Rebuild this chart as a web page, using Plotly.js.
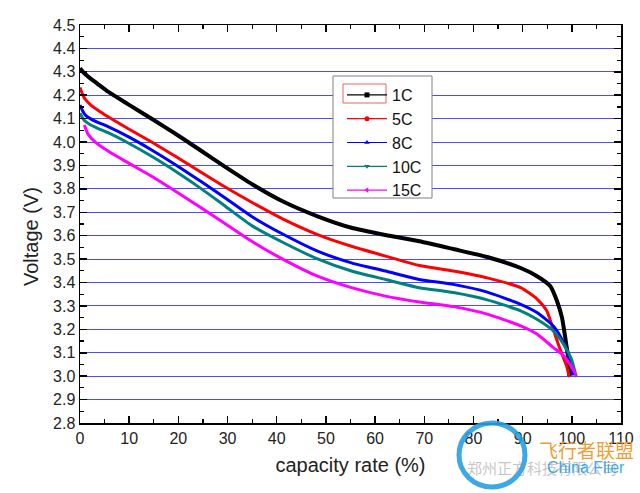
<!DOCTYPE html>
<html>
<head>
<meta charset="utf-8">
<script src="https://cdn.plot.ly/plotly-3.0.1.min.js"></script>
<style>html,body{margin:0;padding:0;background:#fff;}#chart{width:640px;height:493px;}</style>
</head>
<body>
<div id="chart"></div>
<script>
// ---- data ----
const seriesNames = ["1C", "5C", "8C", "10C", "15C"];
const xTickVals = [0, 10, 20, 30, 40, 50, 60, 70, 80, 90, 100, 110];

const x1C = [0, 0.6, 1.1, 2.1, 3.5, 5.7, 9.9, 14.9, 19.8, 24.7, 29.6, 35.0, 41.4, 48.3, 55.2, 62.1, 69.0, 75.9, 82.8, 89.6, 93.1, 95.6, 97.0, 98.0, 98.7, 99.3, 99.5];
const y1C = [4.315, 4.30, 4.29, 4.272, 4.25, 4.215, 4.16, 4.095, 4.03, 3.962, 3.893, 3.82, 3.745, 3.683, 3.634, 3.603, 3.576, 3.543, 3.509, 3.462, 3.425, 3.385, 3.32, 3.25, 3.16, 3.07, 3.0];

const x5C = [0, 0.6, 1.1, 2.1, 3.5, 5.7, 9.9, 14.9, 19.8, 24.7, 29.6, 35.0, 41.4, 48.3, 55.2, 62.1, 69.0, 75.9, 82.8, 89.6, 92.9, 94.9, 96.2, 97.6, 98.9, 99.5];
const y5C = [4.233, 4.2, 4.182, 4.16, 4.138, 4.108, 4.056, 3.996, 3.934, 3.87, 3.807, 3.742, 3.67, 3.605, 3.555, 3.513, 3.473, 3.449, 3.42, 3.378, 3.33, 3.279, 3.201, 3.116, 3.045, 2.996];

const x8C = [0, 0.6, 1.1, 2.1, 3.5, 5.7, 9.9, 14.9, 19.8, 24.7, 29.6, 35.0, 41.4, 48.3, 55.2, 62.1, 69.0, 75.9, 82.8, 89.6, 92.9, 96.2, 98.3, 99.6, 100.2];
const y8C = [4.158, 4.13, 4.115, 4.1, 4.085, 4.066, 4.022, 3.962, 3.898, 3.83, 3.76, 3.681, 3.605, 3.534, 3.484, 3.449, 3.413, 3.392, 3.359, 3.307, 3.272, 3.215, 3.144, 3.074, 3.003];

const x10C = [0, 0.6, 1.1, 2.1, 3.5, 5.7, 9.9, 14.9, 19.8, 24.7, 29.6, 35.0, 41.4, 48.3, 55.2, 62.1, 69.0, 75.9, 82.8, 89.6, 92.9, 96.2, 98.3, 99.9, 100.9];
const y10C = [4.123, 4.1, 4.088, 4.074, 4.06, 4.04, 3.995, 3.935, 3.87, 3.8, 3.725, 3.642, 3.57, 3.501, 3.449, 3.413, 3.378, 3.357, 3.326, 3.279, 3.243, 3.194, 3.137, 3.074, 2.996];

const x15C = [0.9, 1.6, 3.1, 5.7, 9.9, 14.9, 19.8, 24.7, 29.6, 35.0, 41.4, 48.3, 55.2, 62.1, 69.0, 75.9, 82.8, 89.6, 92.9, 96.2, 98.3, 100.2, 100.9];
const y15C = [4.073, 4.035, 4.0, 3.962, 3.91, 3.85, 3.785, 3.718, 3.65, 3.575, 3.498, 3.427, 3.378, 3.342, 3.317, 3.297, 3.265, 3.215, 3.18, 3.123, 3.088, 3.031, 3.003];

// ---- styles ----
const xs = [x1C, x5C, x8C, x10C, x15C];
const ys = [y1C, y5C, y8C, y10C, y15C];
const colors = ["#000000", "#ff0000", "#0000ff", "#008080", "#ff00ff"];
const widths = [4, 3, 3, 3, 3];
const symbols = ["square", "circle", "triangle-up", "triangle-down", "triangle-left"];

const traces = [];
for (let i = 0; i < seriesNames.length; i++) {
  traces.push({
    x: xs[i], y: ys[i], type: "scatter", mode: "lines",
    line: {color: colors[i], width: widths[i], shape: "spline", smoothing: 0.6},
    showlegend: false, hoverinfo: "skip"
  });
}
for (let i = 0; i < seriesNames.length; i++) {
  traces.push({
    x: [null], y: [null], type: "scatter", mode: "lines+markers",
    name: seriesNames[i],
    line: {color: colors[i], width: 1.2},
    marker: {color: colors[i], symbol: symbols[i], size: 5}
  });
}

function px2x(p) { return (p - 80) / 541; }
function py2y(p) { return (423 - p) / 398; }

const layout = {
  width: 640, height: 493,
  margin: {l: 80, r: 19, t: 25, b: 70},
  paper_bgcolor: "#ffffff", plot_bgcolor: "#ffffff",
  font: {family: "Liberation Sans, Arial, sans-serif", color: "#222"},
  xaxis: {
    range: [0, 110], tickvals: xTickVals, ticks: "inside", ticklen: 7, tickwidth: 1.5, tickcolor: "#000",
    showline: true, linecolor: "#000", linewidth: 1.5, mirror: "ticks",
    showgrid: false, zeroline: false,
    minor: {dtick: 5, ticks: "inside", ticklen: 4, tickwidth: 1.2, tickcolor: "#000", showgrid: false},
    tickfont: {size: 16, color: "#222"},
    title: {text: "capacity rate (%)", font: {size: 20, color: "#222"}, standoff: 12}
  },
  yaxis: {
    range: [2.8, 4.5], dtick: 0.1, tick0: 2.8, tickformat: ".1f", ticks: "inside", ticklen: 7, tickwidth: 1.5, tickcolor: "#000",
    showline: true, linecolor: "#000", linewidth: 1.5, mirror: "ticks",
    showgrid: true, gridcolor: "#4a4aff", gridwidth: 1, zeroline: false,
    minor: {dtick: 0.05, ticks: "inside", ticklen: 4, tickwidth: 1.2, tickcolor: "#000", showgrid: false},
    tickfont: {size: 16, color: "#222"}
  },
  legend: {
    x: px2x(342), y: py2y(78), xanchor: "left", yanchor: "top",
    bgcolor: "rgba(255,255,255,0)", borderwidth: 0,
    font: {size: 16, color: "#111"}, itemwidth: 40
  },
  shapes: [
    {type: "rect", xref: "paper", yref: "paper", x0: px2x(333), x1: px2x(432), y0: py2y(198), y1: py2y(76),
     fillcolor: "#ffffff", line: {color: "#808080", width: 1}, layer: "above"},
    {type: "rect", xref: "paper", yref: "paper", x0: px2x(343), x1: px2x(386), y0: py2y(103), y1: py2y(84),
     fillcolor: "rgba(0,0,0,0)", line: {color: "#f06060", width: 1}, layer: "above"},
    {type: "circle", xref: "paper", yref: "paper", x0: px2x(459), x1: px2x(525), y0: py2y(487), y1: py2y(423),
     fillcolor: "rgba(0,0,0,0)", line: {color: "rgba(40,160,225,0.9)", width: 5}, layer: "above"}
  ],
  annotations: [
    {text: "Voltage (V)", xref: "paper", yref: "paper", x: px2x(31), y: py2y(237), xanchor: "center", yanchor: "middle",
     textangle: -90, showarrow: false, font: {size: 20, color: "#222"}},
    {text: "飞行者联盟", xref: "paper", yref: "paper", x: px2x(586), y: py2y(449), xanchor: "center", yanchor: "middle", showarrow: false,
     font: {family: "Noto Sans CJK SC", size: 19, color: "rgba(240,150,40,0.95)"}},
    {text: "郑州正方科技有限公司", xref: "paper", yref: "paper", x: px2x(542), y: py2y(467), xanchor: "center", yanchor: "middle", showarrow: false,
     font: {family: "Noto Sans CJK SC", size: 15, color: "rgba(140,140,140,0.5)"}},
    {text: "China Flier", xref: "paper", yref: "paper", x: px2x(586), y: py2y(467), xanchor: "center", yanchor: "middle", showarrow: false,
     font: {family: "Liberation Sans, Arial", size: 16, color: "rgba(40,160,225,0.9)"}}
  ]
};

Plotly.newPlot("chart", traces, layout, {staticPlot: true, displayModeBar: false});
</script>
</body>
</html>
